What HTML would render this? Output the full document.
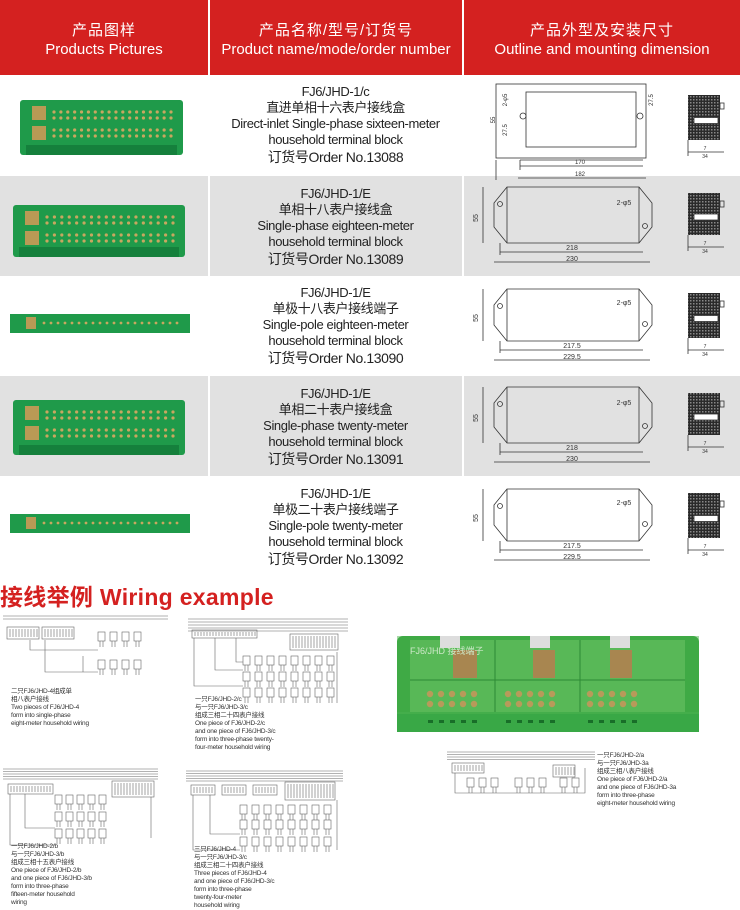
<!DOCTYPE html>
<html><head><meta charset="utf-8"><style>
*{margin:0;padding:0;box-sizing:border-box}
body{width:740px;height:910px;background:#fff;position:relative;overflow:hidden;font-family:"Liberation Sans","Noto Sans CJK SC",sans-serif}
.hdr{position:absolute;top:0;height:75px;background:#d42120;color:#fff;text-align:center}
.hdr .c{font-size:15px;margin-top:19px;letter-spacing:1px}
.hdr .e{font-size:15px;margin-top:1px}
.row{position:absolute;left:0;width:740px;height:100px}
.g{background:#e1e1e1}
.vl{position:absolute;top:75px;width:2px;height:502px;background:#fff}
.txt{position:absolute;left:209px;width:253px;text-align:center;color:#222;font-size:13px;line-height:16px;letter-spacing:-0.4px}
.txt .o{font-size:14px;line-height:19px}
.cap{position:absolute;font-size:6.5px;line-height:8px;color:#333;letter-spacing:-0.2px}
</style></head><body>
<div class="hdr" style="left:0;width:208px"><div class="c">产品图样</div><div class="e">Products Pictures</div></div>
<div class="hdr" style="left:210px;width:252px"><div class="c">产品名称/型号/订货号</div><div class="e">Product name/mode/order number</div></div>
<div class="hdr" style="left:464px;width:276px"><div class="c">产品外型及安装尺寸</div><div class="e">Outline and mounting dimension</div></div>
<div class="row" style="top:75px"></div>
<div class="row g" style="top:176px"></div>
<div class="row" style="top:276px"></div>
<div class="row g" style="top:376px"></div>
<div class="row" style="top:476px"></div>
<div class="vl" style="left:208px"></div><div class="vl" style="left:462px"></div>

<div class="txt" style="top:84px">FJ6/JHD-1/c<br>直进单相十六表户接线盒<br>Direct-inlet Single-phase sixteen-meter<br>household terminal block<br><span class="o">订货号Order No.13088</span></div>
<div class="txt" style="top:186px">FJ6/JHD-1/E<br>单相十八表户接线盒<br>Single-phase eighteen-meter<br>household terminal block<br><span class="o">订货号Order No.13089</span></div>
<div class="txt" style="top:285px">FJ6/JHD-1/E<br>单极十八表户接线端子<br>Single-pole eighteen-meter<br>household terminal block<br><span class="o">订货号Order No.13090</span></div>
<div class="txt" style="top:386px">FJ6/JHD-1/E<br>单相二十表户接线盒<br>Single-phase twenty-meter<br>household terminal block<br><span class="o">订货号Order No.13091</span></div>
<div class="txt" style="top:486px">FJ6/JHD-1/E<br>单极二十表户接线端子<br>Single-pole twenty-meter<br>household terminal block<br><span class="o">订货号Order No.13092</span></div>

<div style="position:absolute;left:0;top:578px;color:#d42120;font-weight:bold;font-size:23px;letter-spacing:0.3px">接线举例 Wiring example</div>

<svg id="s" width="740" height="910" style="position:absolute;left:0;top:0" xmlns="http://www.w3.org/2000/svg">
<defs><pattern id="h" width="3" height="3" patternUnits="userSpaceOnUse"><rect width="3" height="3" fill="#2a2a2a"/><rect width="1.5" height="1.5" fill="#888"/></pattern></defs>
<g id="prod"></g>
<g id="dims" stroke="#333" stroke-width="0.8" fill="none"></g>
<g id="wir" stroke="#666" stroke-width="0.6" fill="none"></g>
<rect x="397" y="636" width="302" height="96" rx="6" fill="#2ea03a"/>
<rect x="397" y="712" width="302" height="20" fill="#39a846"/>
<rect x="397" y="636" width="302" height="78" fill="#4fb34f" opacity="0.5"/>
<rect x="410" y="640" width="275" height="72" fill="#58b857"/>
<line x1="495" y1="640" x2="495" y2="712" stroke="#2d8a34"/><line x1="580" y1="640" x2="580" y2="712" stroke="#2d8a34"/>
<line x1="410" y1="680" x2="685" y2="680" stroke="#2d8a34"/>
<rect x="440" y="636" width="20" height="12" fill="#ddd"/><rect x="530" y="636" width="20" height="12" fill="#ddd"/><rect x="610" y="636" width="20" height="12" fill="#ddd"/>
<rect x="453" y="650" width="24" height="28" fill="#a88650"/><rect x="533" y="650" width="22" height="28" fill="#a88650"/><rect x="610" y="650" width="22" height="28" fill="#a88650"/>
<g id="photoDots" fill="#b89a5a"></g>
<text x="410" y="654" font-size="9" fill="#cde8c8" font-family="Liberation Sans,Noto Sans CJK SC,sans-serif">FJ6/JHD 接线端子</text>
</svg>

<div class="cap" style="left:11px;top:688px">二只FJ6/JHD-4组成单<br>相八表户接线<br>Two pieces of FJ6/JHD-4<br>form into single-phase<br>eight-meter household wiring</div>
<div class="cap" style="left:195px;top:696px">一只FJ6/JHD-2/c<br>与一只FJ6/JHD-3/c<br>组成三相二十四表户接线<br>One piece of FJ6/JHD-2/c<br>and one piece of FJ6/JHD-3/c<br>form into three-phase twenty-<br>four-meter household wiring</div>
<div class="cap" style="left:11px;top:843px">一只FJ6/JHD-2/b<br>与一只FJ6/JHD-3/b<br>组成三相十五表户接线<br>One piece of FJ6/JHD-2/b<br>and one piece of FJ6/JHD-3/b<br>form into three-phase<br>fifteen-meter household<br>wiring</div>
<div class="cap" style="left:194px;top:846px">三只FJ6/JHD-4<br>与一只FJ6/JHD-3/c<br>组成三相二十四表户接线<br>Three pieces of FJ6/JHD-4<br>and one piece of FJ6/JHD-3/c<br>form into three-phase<br>twenty-four-meter<br>household wiring</div>
<div class="cap" style="left:597px;top:752px">一只FJ6/JHD-2/a<br>与一只FJ6/JHD-3a<br>组成三相八表户接线<br>One piece of FJ6/JHD-2/a<br>and one piece of FJ6/JHD-3a<br>form into three-phase<br>eight-meter household wiring</div>

<script>
var NS="http://www.w3.org/2000/svg";
function el(p,t,a){var e=document.createElementNS(NS,t);for(var k in a)e.setAttribute(k,a[k]);document.getElementById(p).appendChild(e);return e;}
function T(p,x,y,s,txt,rot){var e=el(p,'text',{x:x,y:y,'font-size':s,fill:'#333',stroke:'none','font-family':'Liberation Sans,sans-serif','text-anchor':'middle'});if(rot)e.setAttribute('transform','rotate(-90 '+x+' '+y+')');e.textContent=txt;}
function block(x,y,w,h,two){
 el('prod','rect',{x:x,y:y,width:w,height:h,fill:'#1f9a4a',rx:3});
 el('prod','rect',{x:x+6,y:y+h-10,width:w-12,height:10,fill:'#15803c'});
 var rows=two?[y+12,y+18,y+30,y+36]:[y+h/2-2];
 el('prod','rect',{x:x+12,y:two?y+6:y+h/2-6,width:14,height:two?14:12,fill:'#b99a55'});
 if(two)el('prod','rect',{x:x+12,y:y+26,width:14,height:14,fill:'#b99a55'});
 rows.forEach(function(ry){for(var i=0;i<18;i++)el('prod','circle',{cx:x+34+i*(w-46)/17,cy:ry,r:1.6,fill:'#c8a760'});});
}
block(20,100,163,55,true);block(13,205,172,52,true);block(13,400,172,55,true);
el('prod','rect',{x:10,y:314,width:180,height:19,fill:'#1f9a4a'});el('prod','rect',{x:10,y:514,width:180,height:19,fill:'#1f9a4a'});
[323,523].forEach(function(y){el('prod','rect',{x:26,y:y-6,width:10,height:12,fill:'#b99a55'});for(var i=0;i<20;i++)el('prod','circle',{cx:44+i*7,cy:y,r:1.4,fill:'#c8a760'});});
function side(y,h){el('dims','rect',{x:688,y:y,width:32,height:h,fill:'url(#h)',stroke:'none'});el('dims','rect',{x:720,y:y+8,width:4,height:6});el('dims','rect',{x:694,y:y+h/2,width:24,height:6,fill:'#fff'});
 el('dims','line',{x1:688,y1:y+h+12,x2:724,y2:y+h+12});el('dims','line',{x1:688,y1:y+h,x2:688,y2:y+h+16});T('dims',705,y+h+10,5,'7');T('dims',705,y+h+18,5,'34');}
el('dims','rect',{x:496,y:84,width:150,height:74});el('dims','rect',{x:526,y:92,width:110,height:55});
el('dims','line',{x1:496,y1:160,x2:496,y2:180});el('dims','line',{x1:520,y1:160,x2:520,y2:170});
el('dims','line',{x1:520,y1:160,x2:643,y2:160});el('dims','line',{x1:520,y1:166,x2:643,y2:166});el('dims','line',{x1:518,y1:178,x2:646,y2:178});
el('dims','circle',{cx:523,cy:116,r:3});el('dims','circle',{cx:640,cy:116,r:3});
T('dims',580,164,6,'170');T('dims',580,176,6,'182');T('dims',495,120,6,'55',1);T('dims',507,100,6,'2-φ5',1);T('dims',507,130,6,'27.5',1);T('dims',653,100,6,'27.5',1);
side(95,45);
function hex(y,h,a,b){var x1=494,x2=652;
 el('dims','polygon',{points:(x1+13)+','+y+' '+(x2-13)+','+y+' '+x2+','+(y+16)+' '+x2+','+(y+h-16)+' '+(x2-13)+','+(y+h)+' '+(x1+13)+','+(y+h)+' '+x1+','+(y+h-16)+' '+x1+','+(y+16)});
 el('dims','line',{x1:x1+13,y1:y,x2:x1+13,y2:y+h});el('dims','line',{x1:x2-13,y1:y,x2:x2-13,y2:y+h});
 el('dims','circle',{cx:500,cy:y+17,r:2.5});el('dims','circle',{cx:645,cy:y+h-17,r:2.5});
 el('dims','line',{x1:500,y1:y+h,x2:500,y2:y+h+12});el('dims','line',{x1:500,y1:y+h+9,x2:643,y2:y+h+9});el('dims','line',{x1:494,y1:y+h+19,x2:650,y2:y+h+19});
 T('dims',572,y+h+7,7,a);T('dims',572,y+h+18,7,b);T('dims',624,y+h/2-10,7,'2-φ5');T('dims',478,y+h/2+3,7,h>50?'55':'26',1);
 el('dims','line',{x1:483,y1:y,x2:483,y2:y+h});}
hex(187,56,'218','230');side(193,42);
hex(289,52,'217.5','229.5');side(293,45);
hex(387,56,'218','230');side(393,42);
hex(489,52,'217.5','229.5');side(493,45);
function bus(x1,x2,y,n,g){for(var i=0;i<n;i++)el('wir','line',{x1:x1,y1:y+i*g,x2:x2,y2:y+i*g});}
function meters(x,y,n,dx){for(var i=0;i<n;i++){el('wir','rect',{x:x+i*dx,y:y,width:7,height:9});el('wir','line',{x1:x+i*dx+2,y1:y+9,x2:x+i*dx+2,y2:y+15});el('wir','line',{x1:x+i*dx+5,y1:y+9,x2:x+i*dx+5,y2:y+15});}}
function tb(x,y,w,h){el('wir','rect',{x:x,y:y,width:w,height:h});for(var i=3;i<w;i+=3)el('wir','line',{x1:x+i,y1:y+2,x2:x+i,y2:y+h-2});}
bus(3,168,616,2,3);tb(7,627,32,12);tb(42,627,32,12);meters(98,632,4,12);meters(98,660,4,12);
el('wir','polyline',{points:'45,640 45,672 98,672'});el('wir','polyline',{points:'30,640 30,650 98,650'});el('wir','line',{x1:83,y1:656,x2:83,y2:672});
bus(188,348,619,5,3);tb(192,630,65,8);tb(290,634,48,16);meters(243,656,8,12);meters(243,672,8,12);meters(243,688,8,12);
el('wir','polyline',{points:'194,638 194,686 243,686'});el('wir','polyline',{points:'215,638 215,670 243,670'});el('wir','polyline',{points:'236,638 236,662 243,662'});el('wir','line',{x1:337,y1:652,x2:337,y2:703});
bus(3,158,769,5,2.5);tb(8,784,45,10);tb(112,781,42,16);meters(55,795,5,11);meters(55,812,5,11);meters(55,829,5,11);
el('wir','polyline',{points:'10,794 10,845 55,845'});el('wir','polyline',{points:'25,794 25,828 55,828'});el('wir','line',{x1:151,y1:797,x2:151,y2:838});
bus(186,343,771,5,2.5);tb(191,785,24,10);tb(222,785,24,10);tb(253,785,24,10);tb(285,782,50,18);meters(240,805,8,12);meters(240,820,8,12);meters(240,837,8,12);
el('wir','polyline',{points:'193,795 193,850 240,850'});el('wir','polyline',{points:'210,795 210,834 240,834'});el('wir','line',{x1:337,y1:800,x2:337,y2:850});
bus(447,595,752,4,2.5);tb(452,763,32,10);tb(553,765,22,12);meters(467,778,3,12);meters(515,778,3,12);meters(560,778,2,12);
el('wir','polyline',{points:'455,773 455,793 585,793 585,768'});
for(var r=0;r<2;r++)for(var i=0;i<15;i++){var bx=[430,508,590][Math.floor(i/5)]+(i%5)*11;el('photoDots','circle',{cx:bx,cy:694+r*10,r:3.2});}
for(var i=0;i<15;i++){var bx=[430,508,590][Math.floor(i/5)]+(i%5)*11;el('photoDots','rect',{x:bx-2,y:720,width:5,height:3,fill:'#186e28'});}
</script>
</body></html>
